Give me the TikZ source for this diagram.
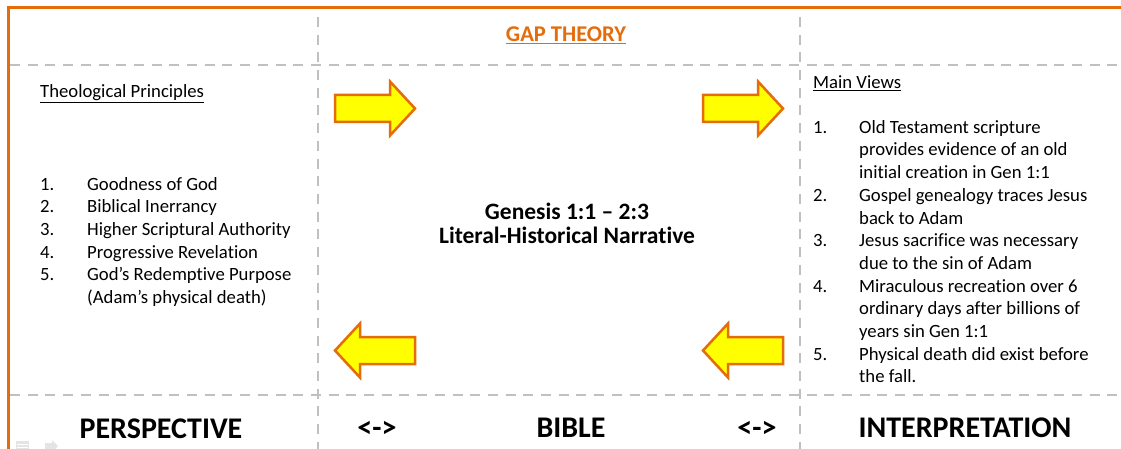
\documentclass[tikz,border=0pt]{standalone}
\usepackage{fontspec}
\setmainfont{Carlito}[Ligatures={NoCommon,NoContextual}]
\definecolor{orng}{HTML}{E46C0A}
\definecolor{gridgray}{HTML}{C0C0C0}
\definecolor{yel}{HTML}{FFFF00}
\definecolor{navgray}{HTML}{E4E4E4}
\begin{document}
\begin{tikzpicture}[x=1pt,y=-1pt,
  gridline/.style={gridgray, line width=2.5pt, dash pattern=on 10pt off 7.7pt},
  blockarrow/.style={fill=yel, draw=orng, line width=2.5pt, line join=miter},
  body/.style={font=\fontsize{18.7}{22.7}\selectfont, inner sep=0pt, anchor=base west},
  big/.style={font=\fontsize{30}{36}\selectfont\bfseries, inner sep=0pt, anchor=base},
  mid/.style={font=\fontsize{23.5}{26}\selectfont\bfseries, inner sep=0pt, anchor=base, align=center},
]
\useasboundingbox (0,0) rectangle (1121,449);
\fill[white] (0,0) rectangle (1121,449);
\begin{scope}
\clip (0,0) rectangle (1121,449);
% outer orange frame
\draw[orng, line width=3pt] (8.5,470) -- (8.5,8) -- (1140,8);
% grid
\draw[gridline] (10,65) -- (1121,65);
\draw[gridline] (10,395) -- (1121,395);
\draw[gridline] (318,17) -- (318,449);
\draw[gridline] (800,17) -- (800,449);
% block arrows
\newcommand\blockarrowpath{(0,-13.5) -- (55,-13.5) -- (55,-27) -- (80,0) -- (55,27) -- (55,13.5) -- (0,13.5) -- cycle}
\begin{scope}[shift={(335,108.5)}]
  \draw[blockarrow] \blockarrowpath;
\end{scope}
\begin{scope}[shift={(703,108.5)}]
  \draw[blockarrow] \blockarrowpath;
\end{scope}
\begin{scope}[shift={(415,350.5)}, xscale=-1]
  \draw[blockarrow] \blockarrowpath;
\end{scope}
\begin{scope}[shift={(783,350.5)}, xscale=-1]
  \draw[blockarrow] \blockarrowpath;
\end{scope}
% faint slide navigation icons
\fill[navgray] (16,441) rectangle (29,449);
\draw[white, line width=0.8pt] (17,444) -- (28,444) (17,447) -- (28,447);
\fill[navgray] (45,443) -- (52,443) -- (52,440) -- (58,446) -- (52,452) -- (52,449) -- (45,449) -- cycle;
\end{scope}

% title
\node[font=\fontsize{22.5}{26}\selectfont\bfseries, text=orng, inner sep=0pt, anchor=base] (title) at (566,42) {\underline{GAP THEORY}};

% left column
\node[body] (tp) at (40,98) {\underline{Theological Principles}};
\node[body] (leftlist) at (40,190) {%
  \begin{tabular}[t]{@{}p{47pt}@{}l@{}}
  1. & Goodness of God\\
  2. & Biblical Inerrancy\\
  3. & Higher Scriptural Authority\\
  4. & Progressive Revelation\\
  5. & God’s Redemptive Purpose\\
     & (Adam’s physical death)
  \end{tabular}};

% center
\node[mid] (gen) at (567,219) {Genesis 1:1 – 2:3};
\node[mid] (lit) at (567,243) {Literal-Historical Narrative};

% right column
\node[body] (mv) at (813,89) {\underline{Main Views}};
\node[body] (rightlist) at (813,133.3) {%
  \begin{tabular}[t]{@{}p{46pt}@{}l@{}}
  1. & Old Testament scripture\\
     & provides evidence of an old\\
     & initial creation in Gen 1:1\\
  2. & Gospel genealogy traces Jesus\\
     & back to Adam\\
  3. & Jesus sacrifice was necessary\\
     & due to the sin of Adam\\
  4. & Miraculous recreation over 6\\
     & ordinary days after billions of\\
     & years sin Gen 1:1\\
  5. & Physical death did exist before\\
     & the fall.
  \end{tabular}};

% bottom labels
\node[big] (persp) at (161,438) {PERSPECTIVE};
\node[big] (sep1) at (377,437) {<->};
\node[big] (bible) at (571,437) {BIBLE};
\node[big] (sep2) at (757,437) {<->};
\node[big] (interp) at (965,437) {INTERPRETATION};
\end{tikzpicture}
\end{document}
